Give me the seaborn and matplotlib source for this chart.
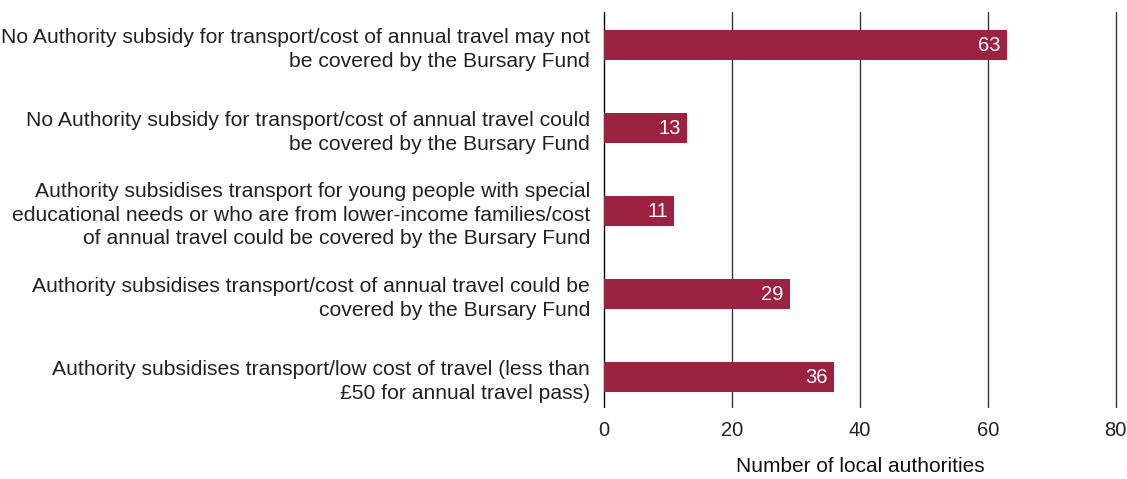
import matplotlib
matplotlib.use("Agg")
import matplotlib.pyplot as plt
import seaborn as sns
import pandas as pd

# Chart data
categories = [
    "No Authority subsidy for transport/cost of annual travel may not\nbe covered by the Bursary Fund",
    "No Authority subsidy for transport/cost of annual travel could\nbe covered by the Bursary Fund",
    "Authority subsidises transport for young people with special\neducational needs or who are from lower-income families/cost\nof annual travel could be covered by the Bursary Fund",
    "Authority subsidises transport/cost of annual travel could be\ncovered by the Bursary Fund",
    "Authority subsidises transport/low cost of travel (less than\n£50 for annual travel pass)",
]
counts = [63, 13, 11, 29, 36]
x_ticks = [0, 20, 40, 60, 80]
x_label = "Number of local authorities"

bar_color = "#9b2240"

sns.set_style("white")
plt.rcParams["font.family"] = ["Liberation Sans", "DejaVu Sans"]

df = pd.DataFrame({"category": categories, "count": counts})

fig = plt.figure(figsize=(11.27, 4.79), dpi=100)
ax = fig.add_axes([0.536, 0.150, 0.454, 0.825])

sns.barplot(data=df, x="count", y="category", color=bar_color,
            width=0.36, saturation=1, linewidth=0, ax=ax, zorder=3)

ax.set_xlim(0, 80)
ax.set_ylim(4.36, -0.40)
ax.set_xticks(x_ticks)
for xv in x_ticks:
    ax.axvline(xv, color="#333333" if xv else "black", lw=1.0, zorder=1,
               clip_on=False)

for sp in ax.spines.values():
    sp.set_visible(False)

ax.tick_params(axis="both", length=0)
ax.tick_params(axis="x", labelsize=14.5, colors="#222222", pad=10)
ax.tick_params(axis="y", labelsize=15.2, colors="#222222", pad=10)
for lbl in ax.get_yticklabels():
    lbl.set_horizontalalignment("right")
    lbl.set_multialignment("right")
    lbl.set_linespacing(1.3)

ax.set_ylabel("")
ax.set_xlabel(x_label, fontsize=15, color="#111111", labelpad=12)

for i, v in enumerate(counts):
    ax.text(v - 1.0, i, str(v), color="white", ha="right", va="center",
            fontsize=14.5, zorder=4)

fig.savefig("out.png", dpi=100)
